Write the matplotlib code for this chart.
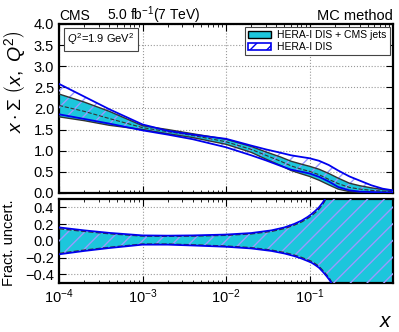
import matplotlib
matplotlib.use("Agg")
import matplotlib.pyplot as plt
from matplotlib.patches import Patch
import numpy as np

plt.rcParams['font.family'] = ['Liberation Sans', 'DejaVu Sans']
plt.rcParams['mathtext.fontset'] = 'custom'
plt.rcParams['mathtext.rm'] = 'Liberation Sans'
plt.rcParams['mathtext.it'] = 'Liberation Sans:italic'
plt.rcParams['mathtext.bf'] = 'Liberation Sans:bold'
plt.rcParams['hatch.linewidth'] = 1.0

# top panel: x*Sigma band edges
x_top = [1e-4, 2e-4, 4e-4, 1e-3, 2e-3, 4e-3, 1e-2, 2e-2, 3e-2, 4.5e-2, 6e-2, 8e-2,
         0.1, 0.13, 0.17, 0.22, 0.3, 0.4, 0.55, 0.75, 1.0]
hera_up = [2.58, 2.28, 1.98, 1.62, 1.47, 1.38, 1.28, 1.12, 1.03, 0.95, 0.89, 0.85,
           0.82, 0.76, 0.66, 0.53, 0.39, 0.29, 0.18, 0.10, 0.06]
hera_lo = [1.86, 1.75, 1.64, 1.48, 1.38, 1.27, 1.08, 0.89, 0.77, 0.64, 0.55, 0.50,
           0.46, 0.38, 0.27, 0.14, 0.06, 0.03, 0.02, 0.01, 0.01]
cms_up = [2.34, 2.15, 1.93, 1.59, 1.50, 1.40, 1.27, 1.10, 0.97, 0.85, 0.75, 0.68,
          0.63, 0.56, 0.46, 0.35, 0.23, 0.17, 0.12, 0.08, 0.06]
cms_mid = [2.07, 1.93, 1.76, 1.545, 1.45, 1.36, 1.21, 1.03, 0.89, 0.75, 0.64, 0.56,
           0.51, 0.43, 0.32, 0.22, 0.13, 0.09, 0.06, 0.04, 0.03]
cms_lo = [1.80, 1.71, 1.60, 1.50, 1.40, 1.31, 1.15, 0.96, 0.80, 0.65, 0.53, 0.45,
          0.39, 0.30, 0.19, 0.09, 0.03, 0.02, 0.01, 0.01, 0.0]

# bottom panel: fractional uncertainties
x_frac = [1e-4, 2e-4, 4e-4, 1e-3, 2e-3, 4e-3, 1e-2, 2e-2, 3.5e-2, 5e-2, 6.5e-2, 8e-2,
          0.095, 0.106, 0.118, 0.13, 0.145, 0.16, 0.175, 0.19, 1.0]
hera_fr_up = [0.16, 0.125, 0.095, 0.065, 0.062, 0.065, 0.075, 0.093, 0.125, 0.16, 0.20, 0.24,
              0.285, 0.32, 0.36, 0.40, 0.46, 0.53, 0.62, 0.75, 3.0]
hera_fr_lo = [-0.16, -0.12, -0.085, -0.045, -0.045, -0.055, -0.07, -0.09, -0.12, -0.15, -0.18, -0.21,
              -0.24, -0.26, -0.29, -0.32, -0.37, -0.42, -0.47, -0.53, -3.0]
cms_fr_up = [0.145, 0.113, 0.085, 0.057, 0.054, 0.057, 0.066, 0.083, 0.113, 0.147, 0.186, 0.225,
             0.268, 0.30, 0.34, 0.38, 0.44, 0.51, 0.60, 0.73, 3.0]
cms_fr_lo = [-0.15, -0.11, -0.077, -0.038, -0.038, -0.047, -0.062, -0.081, -0.11, -0.139, -0.168, -0.197,
             -0.226, -0.245, -0.275, -0.305, -0.355, -0.405, -0.455, -0.515, -3.0]

x_ticks = [1e-4, 1e-3, 1e-2, 1e-1]

cyan = '#1cc6dc'
hatchc = '#9a9aff'
edge = '#333333'
blue = '#0000ee'

fig = plt.figure(figsize=(3.99, 3.32), dpi=100)
ax = fig.add_axes([0.148, 0.419, 0.837, 0.509])
ax2 = fig.add_axes([0.148, 0.148, 0.837, 0.253])

# top
ax.fill_between(x_top, cms_lo, cms_up, facecolor=cyan, edgecolor='none', zorder=2)
ax.fill_between(x_top, hera_lo, hera_up, facecolor='none', edgecolor=hatchc,
                hatch='//', linewidth=0, zorder=3)
ax.plot(x_top, cms_up, color=edge, lw=1.0, zorder=4)
ax.plot(x_top, cms_lo, color=edge, lw=1.0, zorder=4)
ax.plot(x_top, cms_mid, color=edge, lw=0.8, ls='--', zorder=4)
ax.plot(x_top, hera_up, color=blue, lw=1.3, zorder=5)
ax.plot(x_top, hera_lo, color=blue, lw=1.3, zorder=5)

# bottom
ax2.fill_between(x_frac, cms_fr_lo, cms_fr_up, facecolor=cyan, edgecolor='none', zorder=2)
ax2.fill_between(x_frac, hera_fr_lo, hera_fr_up, facecolor='none', edgecolor=hatchc,
                 hatch='//', linewidth=0, zorder=3)
ax2.plot(x_frac, cms_fr_up, color=edge, lw=1.0, ls='--', zorder=4)
ax2.plot(x_frac, cms_fr_lo, color=edge, lw=1.0, ls='--', zorder=4)
ax2.plot(x_frac, hera_fr_up, color=blue, lw=1.3, zorder=5)
ax2.plot(x_frac, hera_fr_lo, color=blue, lw=1.3, zorder=5)

for a in (ax, ax2):
    a.set_xscale('log')
    a.set_xlim(1e-4, 1.0)
    a.set_xticks(x_ticks)
    a.grid(True, which='major', ls=':', color='#999999', lw=0.8, zorder=0)
    a.tick_params(which='both', direction='in', top=True, right=True, labelsize=10.5)
    a.tick_params(which='major', length=5)
    a.tick_params(which='minor', length=2.5)
    for s in a.spines.values():
        s.set_linewidth(1.6)

ax.set_ylim(0, 4.0)
ax.set_yticks(np.arange(0, 4.01, 0.5))
ax.set_yticklabels(['%.1f' % v for v in np.arange(0, 4.01, 0.5)])
ax.tick_params(labelbottom=False)
ax.set_ylabel(r'$x\cdot\Sigma\ \left(x,\ Q^2\right)$', fontsize=14)
ax.yaxis.set_label_coords(-0.095, 0.66)

ax2.set_ylim(-0.5, 0.5)
ax2.set_yticks([-0.4, -0.2, 0.0, 0.2, 0.4])
ax2.set_ylabel('Fract. uncert.', fontsize=10.5)
ax2.yaxis.set_label_coords(-0.13, 0.48)
ax2.set_xlabel('$x$', fontsize=15, loc='right', labelpad=4)

ax.text(0.0, 1.025, 'CMS', transform=ax.transAxes, fontsize=10, va='baseline')
ax.text(0.144, 1.025, r'5.0 fb$^{-1}$(7 TeV)', transform=ax.transAxes, fontsize=10, va='baseline')
ax.text(1.0, 1.025, 'MC method', transform=ax.transAxes, fontsize=10.5, va='baseline', ha='right')

ax.text(0.025, 0.955, r'$Q^2$=1.9 GeV$^2$', transform=ax.transAxes, fontsize=8, va='top',
        bbox=dict(boxstyle='square,pad=0.3', facecolor='white', edgecolor='#444444', lw=0.8))

handles = [Patch(facecolor=cyan, edgecolor='black', lw=1.0),
           Patch(facecolor='white', edgecolor=blue, hatch='//', lw=1.2)]
leg = ax.legend(handles, ['HERA-I DIS + CMS jets', 'HERA-I DIS'], loc='upper right',
                fontsize=7.5, fancybox=False, framealpha=1, edgecolor='#444444',
                handlelength=2.2, handleheight=0.6, labelspacing=0.2, borderpad=0.3,
                borderaxespad=0.3, handletextpad=0.6)
leg.get_frame().set_linewidth(0.8)

fig.savefig('out.png', dpi=100)
